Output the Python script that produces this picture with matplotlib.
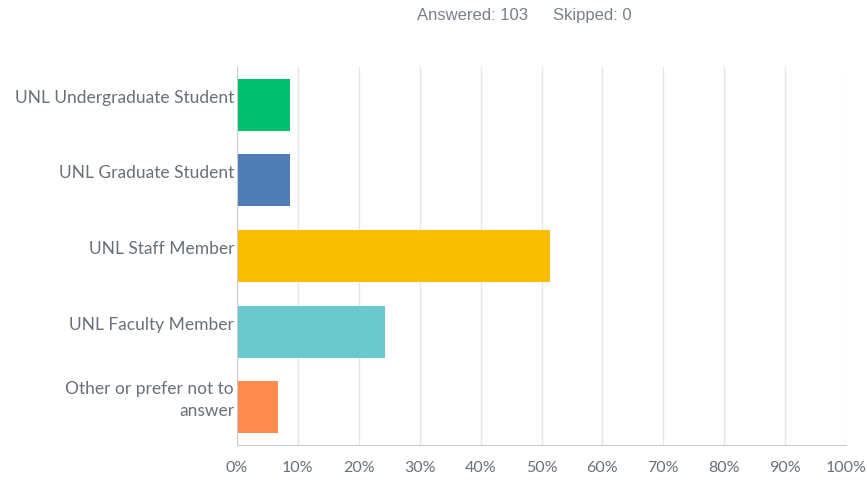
import matplotlib.pyplot as plt
import matplotlib.transforms as mtransforms
import numpy as np

categories = [
    "UNL Undergraduate Student",
    "UNL Graduate Student",
    "UNL Staff Member",
    "UNL Faculty Member",
    "Other or prefer not to\nanswer",
]
percentages = [8.74, 8.74, 51.46, 24.27, 6.80]
colors = ["#00bf6f", "#507cb6", "#f9be00", "#6bc8cd", "#ff8b4f"]
x_ticks = list(range(0, 101, 10))
answered = 103
skipped = 0

text_color = "#6a7078"

fig = plt.figure(figsize=(8.67, 4.81), dpi=100)
ax = fig.add_axes([0.2734, 0.0728, 0.7024, 0.7858])

y = np.arange(len(categories))
ax.barh(y, percentages, height=0.69, color=colors, zorder=3)

ax.set_xlim(0, 100)
ax.set_ylim(len(categories) - 0.5, -0.5)
ax.set_xticks(x_ticks)
ax.set_xticklabels([f"{t}%" for t in x_ticks])
ax.set_yticks(y)
ax.set_yticklabels([])
for lbl in ax.get_xticklabels():
    lbl.set_family("Lato")
    lbl.set_fontsize(11.5)
    lbl.set_color(text_color)

# category labels sit a little above the bar centres in the original
shift = mtransforms.ScaledTranslation(-3 / 100, 8 / 100, fig.dpi_scale_trans)
label_trans = ax.get_yaxis_transform() + shift
for yi, name in zip(y, categories):
    ax.text(0, yi, name, transform=label_trans, ha="right", va="center",
            family="Lato", fontsize=12.5, color=text_color, linespacing=1.45,
            multialignment="right")

ax.grid(axis="x", color="#e6e6e6", linewidth=1, zorder=0)
ax.tick_params(axis="both", length=0)
ax.tick_params(axis="x", pad=11)
for side in ["top", "right"]:
    ax.spines[side].set_visible(False)
ax.spines["left"].set_color("#cccccc")
ax.spines["bottom"].set_color("#cccccc")
ax.spines["left"].set_zorder(4)

fig.text(0.481, 0.968, f"Answered: {answered}", family="Liberation Sans",
         fontsize=12, color="#7a8088", ha="left", va="center")
fig.text(0.638, 0.968, f"Skipped: {skipped}", family="Liberation Sans",
         fontsize=12, color="#7a8088", ha="left", va="center")

fig.savefig("out.png", dpi=100)
